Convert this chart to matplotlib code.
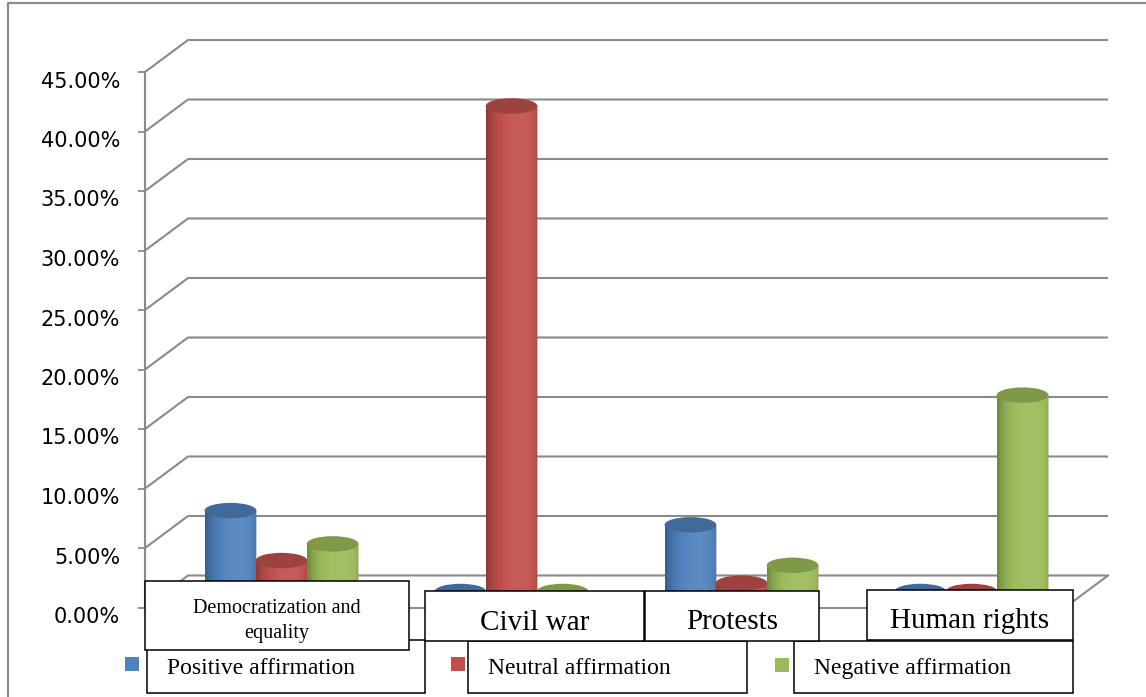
import numpy as np
import matplotlib.pyplot as plt
from matplotlib.patches import Rectangle, Ellipse, PathPatch
from matplotlib.path import Path
from matplotlib.transforms import ScaledTranslation
import matplotlib.colors as mcolors

# data (percent)
categories = ['Democratization and\nequality', 'Civil war', 'Protests', 'Human rights']
series_names = ['Positive affirmation', 'Neutral affirmation', 'Negative affirmation']
positive = [6.8, 0.0, 5.6, 0.0]
neutral = [2.6, 40.8, 0.7, 0.0]
negative = [4.0, 0.0, 2.2, 16.5]
yticks = [0, 5, 10, 15, 20, 25, 30, 35, 40, 45]

colors = ['#4F81BD', '#C0504D', '#9BBB59']
grid = '#8a8a8a'
W, H = 1146, 697

fig = plt.figure(figsize=(W / 100, H / 100), dpi=100)
ax = fig.add_axes([145 / W, (H - 607.5) / H, 920 / W, 535.5 / H])

# depth of the 3d box in data units
dx, dy = 0.187, 2.69

# side wall + back wall gridlines
for v in yticks:
    ax.plot([-0.5, -0.5 + dx, 3.5 + dx], [v, v + dy, v + dy], color=grid, lw=1.5,
            clip_on=False, zorder=1, solid_capstyle='butt')
ax.plot([3.5, 3.5 + dx], [0, dy], color=grid, lw=1.5, clip_on=False, zorder=1)


def shade(rgb, n=80):
    t = np.linspace(-0.999, 0.999, n)
    theta = np.arcsin(t)
    k = 0.74 + 0.34 * np.clip(np.cos(theta - 0.3), 0, 1)
    out = np.empty((1, n, 3))
    for i, kk in enumerate(k):
        if kk <= 1:
            out[0, i] = rgb * kk
        else:
            out[0, i] = rgb + (1 - rgb) * (kk - 1)
    return np.clip(out, 0, 1)


bw = 0.225      # cylinder width
step = 0.222    # spacing inside a group
eh = 1.3        # ellipse height (data units)
base = dy / 2

z = 2
values = [positive, neutral, negative]
for i in range(len(categories)):
    for j, vals in enumerate(values):
        v = vals[i]
        rgb = np.array(mcolors.to_rgb(colors[j]))
        xc = i + (j - 1) * step + dx / 2
        x0, x1 = xc - bw / 2, xc + bw / 2
        top = base + v
        u = np.linspace(-1, 1, 40)
        xs = xc + u * bw / 2
        ys = base - eh / 2 * np.sqrt(1 - u ** 2)
        verts = [(x0, top)] + list(zip(xs, ys)) + [(x1, top), (x0, top)]
        body = PathPatch(Path(verts), facecolor='none', edgecolor='none')
        body.set_transform(ax.transData)
        im = ax.imshow(shade(rgb), extent=[x0, x1, base - eh / 2, top], aspect='auto',
                       interpolation='bilinear', zorder=z)
        im.set_clip_path(body)
        ax.add_patch(Ellipse((xc, top), bw, eh, facecolor=rgb * 0.82, edgecolor='none',
                             zorder=z + 0.5))
        z += 1

ax.set_xlim(-0.5, 3.5)
ax.set_ylim(0, 45)
ax.set_xticks([])
ax.set_yticks(yticks)
ax.tick_params(axis='y', length=5, width=1.3, color=grid, labelleft=False)
for s in ['top', 'right']:
    ax.spines[s].set_visible(False)
for s in ['left', 'bottom']:
    ax.spines[s].set_color(grid)
    ax.spines[s].set_linewidth(1.5)
ax.patch.set_visible(False)

lab_off = ax.transData + ScaledTranslation(-0.25, -0.155, fig.dpi_scale_trans)
for v in yticks:
    ax.text(-0.5, v, f'{v:.2f}%', transform=lab_off, ha='right', va='baseline',
            fontsize=15, family='DejaVu Sans', color='black')

# text boxes and legend on top, laid out in pixels
ov = fig.add_axes([0, 0, 1, 1], zorder=5)
ov.set_xlim(0, W)
ov.set_ylim(H, 0)
ov.axis('off')

ov.plot([8, 8, W], [H, 3, 3], color='#8c8c8c', lw=1.6)

serif = 'Liberation Serif'
leg_boxes = [(147, 640, 425, 693), (468, 641, 747, 693), (794, 641, 1073, 693)]
leg_marks = [(125, 657), (451, 657), (775, 658)]
for (bx0, by0, bx1, by1), (mx, my), name, c in zip(leg_boxes, leg_marks, series_names, colors):
    ov.add_patch(Rectangle((bx0, by0), bx1 - bx0, by1 - by0, facecolor='white',
                           edgecolor='black', lw=1.1))
    ov.add_patch(Rectangle((mx, my), 14, 14, facecolor=c, edgecolor='none'))
    ov.text(bx0 + 20, 674, name, ha='left', va='baseline', fontsize=17, family=serif)

cat_boxes = [(145, 581, 409, 650), (425, 591, 644, 641), (645, 591, 819, 641), (867, 590, 1073, 640)]
cat_baselines = [[613, 638], [630], [629], [628]]
cat_sizes = [14.5, 21, 21, 21]
for (bx0, by0, bx1, by1), name, bls, fs in zip(cat_boxes, categories, cat_baselines, cat_sizes):
    ov.add_patch(Rectangle((bx0, by0), bx1 - bx0, by1 - by0, facecolor='white',
                           edgecolor='black', lw=1.1))
    for line, bl in zip(name.split('\n'), bls):
        ov.text((bx0 + bx1) / 2, bl, line, ha='center', va='baseline',
                fontsize=fs, family=serif)

fig.savefig('out.png', dpi=100)
